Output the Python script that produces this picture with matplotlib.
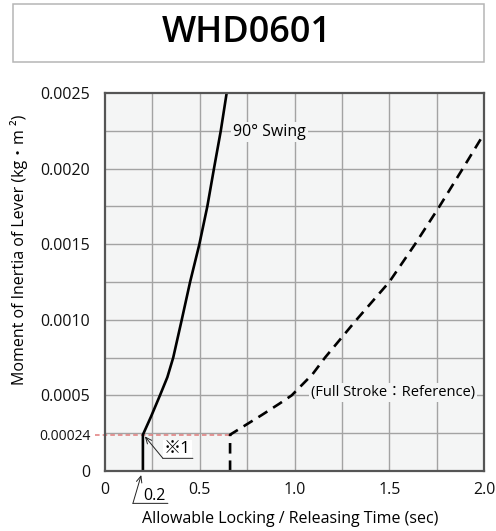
import matplotlib
matplotlib.use('Agg')
import matplotlib.pyplot as plt
from matplotlib.transforms import offset_copy
from matplotlib.patches import Rectangle
import numpy as np

plt.rcParams['font.family'] = ['Open Sans', 'Noto Sans CJK JP', 'DejaVu Sans']

title = 'WHD0601'
swing_x = [0.20, 0.20, 0.243, 0.290, 0.329, 0.360, 0.405, 0.449, 0.498, 0.540, 0.575, 0.611, 0.642]
swing_y = [0, 0.00024, 0.00036, 0.0005, 0.00062, 0.00075, 0.0010, 0.00125, 0.0015, 0.00175, 0.0020, 0.00225, 0.0025]
full_x = [0.660, 0.660, 0.827, 0.920, 0.985, 1.040, 1.095, 1.161, 1.327, 1.500, 1.636, 1.765, 1.888, 1.99]
full_y = [0, 0.00024, 0.00037, 0.000445, 0.0005, 0.00057, 0.00064, 0.00075, 0.0010, 0.00125, 0.0015, 0.00175, 0.0020, 0.00221]
xticks = [0, 0.5, 1.0, 1.5, 2.0]
xticklabels = ['0', '0.5', '1.0', '1.5', '2.0']
yticks = [0, 0.0005, 0.0010, 0.0015, 0.0020, 0.0025]
yticklabels = ['0', '0.0005', '0.0010', '0.0015', '0.0020', '0.0025']
ref_t = 0.2
ref_j = 0.00024
ref_j_label = '0.00024'
swing_label = '90° Swing'
full_label = '(Full Stroke：Reference)'
note_label = '※1'
xlabel = 'Allowable Locking / Releasing Time (sec)'
ylabel = 'Moment of Inertia of Lever (kg・m ²)'

fig = plt.figure(figsize=(4.96, 5.31), dpi=100)
ax = fig.add_axes([105/496, 1-471/531, 379/496, 378/531])
bg = '#f4f5f5'
ax.set_facecolor(bg)
ax.set_xlim(0, 2.0)
ax.set_ylim(0, 0.0025)

# grid
for gx in np.arange(0.25, 2.0, 0.25):
    ax.axvline(gx, color='#a3a3a3', lw=1.0, zorder=1)
for gy in np.arange(0.00025, 0.0025, 0.00025):
    ax.axhline(gy, color='#a3a3a3', lw=1.0, zorder=1)

for s in ax.spines.values():
    s.set_color('#555555')
    s.set_linewidth(1.6)
    s.set_zorder(5)

ax.set_xticks(xticks)
ax.set_xticklabels(xticklabels)
ax.set_yticks(yticks + [ref_j])
ax.set_yticklabels(yticklabels + [ref_j_label])
ax.tick_params(axis='both', length=0, labelsize=11.5, colors='#111111')
ax.tick_params(axis='x', pad=8)
ax.tick_params(axis='y', pad=10.5)
ax.get_yticklabels()[-1].set_fontsize(10)

# reference dashed red line
ax.plot([-0.053, full_x[1]], [ref_j, ref_j], color='#e07b7b', lw=1.1,
        ls=(0, (3, 2)), clip_on=False, zorder=2)

ax.plot(swing_x, swing_y, color='black', lw=1.9, zorder=4, solid_joinstyle='round')
ax.plot(full_x, full_y, color='black', lw=1.9, ls=(0, (4, 2.6)), zorder=4)

ax.text(0.677, 0.00224, swing_label, fontsize=11.5, va='center', ha='left',
        bbox=dict(facecolor=bg, edgecolor='none', pad=1.5), zorder=3)
ax.text(1.085, 0.000518, full_label, fontsize=10.5, va='center', ha='left',
        bbox=dict(facecolor=bg, edgecolor='none', pad=1.5), zorder=3)

def off(dx, dy):
    return offset_copy(ax.transData, fig=fig, x=dx, y=dy, units='points')

arrow = dict(arrowstyle='->,head_length=0.45,head_width=0.2', lw=0.7, color='#222222',
             shrinkA=0, shrinkB=0)
plain = dict(arrowstyle='-', lw=0.7, color='#222222', shrinkA=0, shrinkB=0)

# ※1 annotation
ax.annotate(note_label, xy=(ref_t, ref_j), xytext=(25, -16.3), textcoords='offset points',
            ha='center', va='bottom', fontsize=12.5, zorder=6,
            bbox=dict(facecolor='white', edgecolor='none', pad=0.8))
ax.annotate('', xy=(ref_t, ref_j), xycoords=off(1.4, -1.2),
            xytext=(ref_t, ref_j), textcoords=off(14.4, -17), arrowprops=arrow,
            annotation_clip=False, zorder=7)
ax.annotate('', xy=(ref_t, ref_j), xycoords=off(14.4, -17),
            xytext=(ref_t, ref_j), textcoords=off(36, -17), arrowprops=plain,
            annotation_clip=False, zorder=7)

# 0.2 annotation
ax.annotate('', xy=(ref_t, 0), xycoords=off(-1.2, -2.9),
            xytext=(ref_t, 0), textcoords=off(-7.2, -23.3), arrowprops=arrow,
            annotation_clip=False)
ax.annotate('', xy=(ref_t, 0), xycoords=off(-7.2, -23.3),
            xytext=(ref_t, 0), textcoords=off(18, -23.3), arrowprops=plain,
            annotation_clip=False)
ax.annotate(f'{ref_t}', xy=(ref_t, 0), xytext=(0, -21), textcoords='offset points',
            ha='left', va='baseline', fontsize=11.5, annotation_clip=False)

ax.text(0.489, -0.127, xlabel, transform=ax.transAxes, ha='center', va='center',
        fontsize=11.5)
ax.text(-0.227, 0.585, ylabel, transform=ax.transAxes, ha='center', va='center',
        rotation=90, fontsize=11.5)

# title box
fig.patches.append(Rectangle((13/496, 1-62.3/531), 471/496, 58.3/531,
                             transform=fig.transFigure, facecolor='white',
                             edgecolor='#b5b5b5', lw=1.1))
fig.text(0.497, 1-33/531, title, ha='center', va='center', fontsize=26,
         fontweight='semibold')

fig.savefig('out.png', dpi=100)
